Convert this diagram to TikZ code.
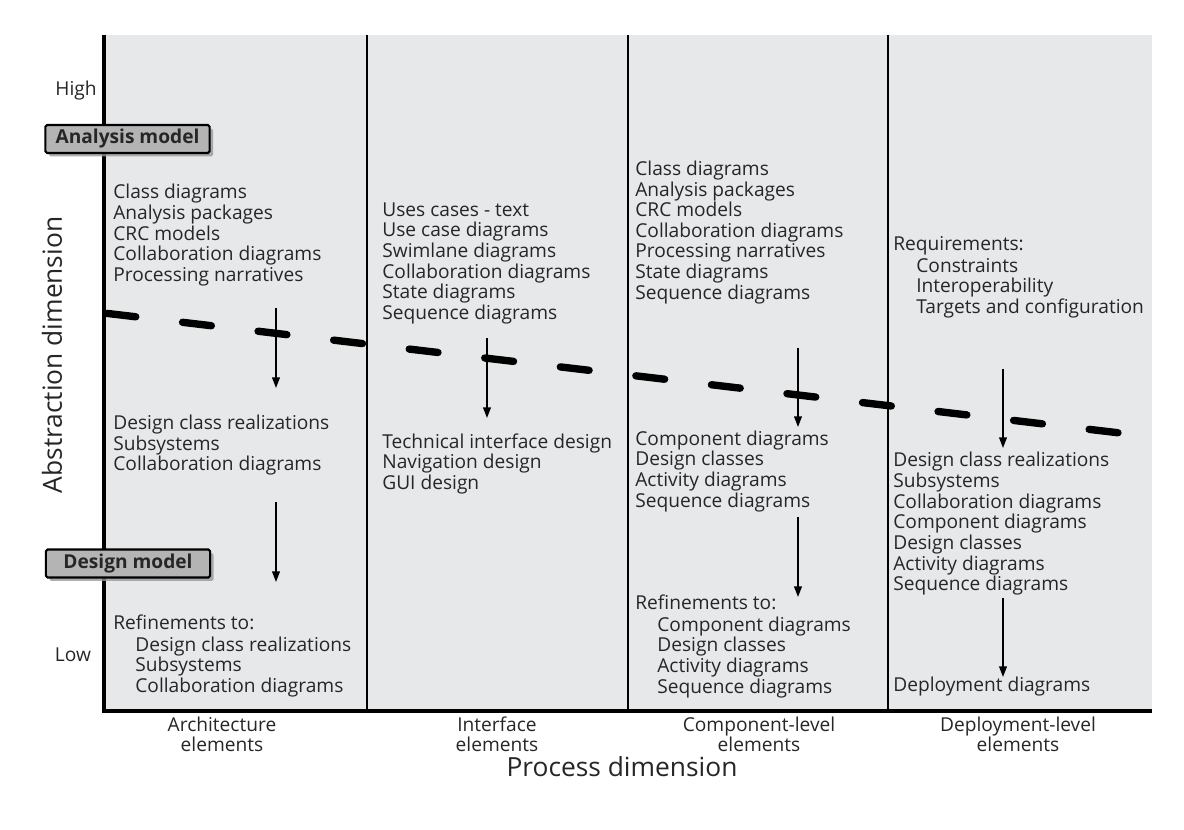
\documentclass[tikz,border=0pt]{standalone}
\usepackage{fontspec}
\setmainfont{Open Sans}
\usetikzlibrary{positioning, arrows.meta, shadows}

\definecolor{panel}{RGB}{231,232,233}
\definecolor{modelgray}{RGB}{180,180,180}
\newcommand{\bodyfont}{\fontsize{10.9}{11.74}\selectfont}

\tikzset{
  item/.style={anchor=base west, align=left, inner sep=0pt, font=\bodyfont, text=black!85},
  colname/.style={anchor=base, align=center, inner sep=0pt, font=\bodyfont, text=black!85},
  modelbox/.style={draw, line width=1.2pt, fill=modelgray, rounded corners=1pt, minimum width=93.5pt, minimum height=15.9pt, inner sep=0pt, font=\bodyfont\bfseries, text=black!85, drop shadow={shadow xshift=2pt, shadow yshift=-2pt, fill=black!40, opacity=.8}},
  axisname/.style={font=\fontsize{15}{18}\selectfont, text=black!85, inner sep=0pt},
  refine/.style={-{Triangle[length=6pt, width=4.4pt]}, line width=.8pt}
}

\begin{document}
\begin{tikzpicture}[x=0.02cm, y=-0.02cm]
  \useasboundingbox (0,0) rectangle (1184,830);
  \fill [panel] (104,35) rectangle (1152,711);
  \foreach \x in {367,628,888} \draw [line width=1.5pt] (\x,35) -- (\x,711);
  \draw [line width=4.2pt, line cap=round, dash pattern=on 16.5pt off 26.8pt] (107,313.4) -- (1120,433);
  \draw [line width=2.8pt] (104,35) -- (104,711) -- (1152,711);

  \node [modelbox] (analysis) at (127.5,139) {Analysis model};
  \node [modelbox] (design) at (128,563.5) {Design model};
  \node [colname] (high) at (76,96) {High};
  \node [colname] (low) at (73,662) {Low};
  \node [axisname, rotate=90] (abstraction) at (52,355) {Abstraction dimension};
  \node [axisname, anchor=base] (process) at (622,777) {Process dimension};

  % architecture elements (base = last line)
  \node [item] (archA) at (113,281.3) {Class diagrams\\Analysis packages\\CRC models\\Collaboration diagrams\\Processing narratives};
  \node [item] (archD) at (113,470.9) {Design class realizations\\Subsystems\\Collaboration diagrams};
  \node [item] (archR) at (113,630) {Refinements to:};
  \node [item] (archRl) at (135,692.4) {Design class realizations\\Subsystems\\Collaboration diagrams};
  % interface elements
  \node [item] (intA) at (382,319.5) {Uses cases - text\\Use case diagrams\\Swimlane diagrams\\Collaboration diagrams\\State diagrams\\Sequence diagrams};
  \node [item] (intD) at (382,489.4) {Technical interface design\\Navigation design\\GUI design};
  % component-level elements
  \node [item] (compA) at (635,299.2) {Class diagrams\\Analysis packages\\CRC models\\Collaboration diagrams\\Processing narratives\\State diagrams\\Sequence diagrams};
  \node [item] (compD) at (635,507.1) {Component diagrams\\Design classes\\Activity diagrams\\Sequence diagrams};
  \node [item] (compR) at (635,610) {Refinements to:};
  \node [item] (compRl) at (657,693.1) {Component diagrams\\Design classes\\Activity diagrams\\Sequence diagrams};
  % deployment-level elements
  \node [item] (depA) at (893,251) {Requirements:};
  \node [item] (depAl) at (916,313.4) {Constraints\\Interoperability\\Targets and configuration};
  \node [item] (depD) at (893,590.7) {Design class realizations\\Subsystems\\Collaboration diagrams\\Component diagrams\\Design classes\\Activity diagrams\\Sequence diagrams};
  \node [item] (depR) at (893,692) {Deployment diagrams};

  \foreach \x/\a/\b in {276/308/388, 276/502/582, 487/338/418, 798/348/427, 798/517/597, 1003/369/448, 1003/598/677}
    \draw [refine] (\x,\a) -- (\x,\b);

  \node [colname] (arch) at (222,752) {Architecture\\elements};
  \node [colname] (inter) at (497,752) {Interface\\elements};
  \node [colname] (comp) at (759,752) {Component-level\\elements};
  \node [colname] (depl) at (1018,752) {Deployment-level\\elements};
\end{tikzpicture}
\end{document}
